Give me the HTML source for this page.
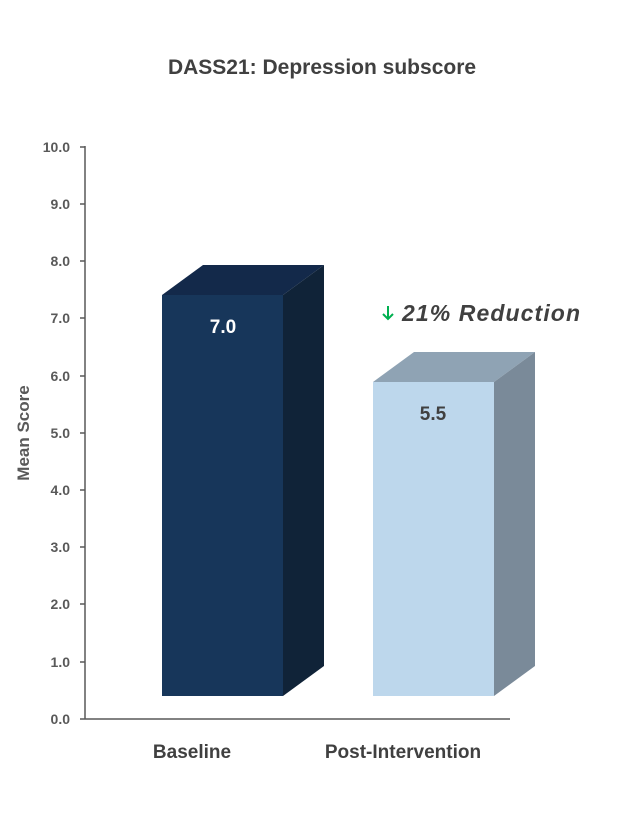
<!DOCTYPE html>
<html><head><style>
body{margin:0;background:#fff;width:641px;height:810px;overflow:hidden}
text{font-family:"Liberation Sans",sans-serif;font-weight:bold}
</style></head><body>
<svg width="641" height="810" xmlns="http://www.w3.org/2000/svg">
<text x="322" y="74" font-size="21" fill="#404040" text-anchor="middle">DASS21: Depression subscore</text>
<g fill="#595959" font-size="14" text-anchor="end">
<text x="70" y="152">10.0</text><text x="70" y="209">9.0</text><text x="70" y="266">8.0</text>
<text x="70" y="323">7.0</text><text x="70" y="381">6.0</text><text x="70" y="438">5.0</text>
<text x="70" y="495">4.0</text><text x="70" y="552">3.0</text><text x="70" y="609">2.0</text>
<text x="70" y="667">1.0</text><text x="70" y="724">0.0</text>
</g>
<g stroke="#595959" stroke-width="1.5">
<line x1="85" y1="146" x2="85" y2="719"/>
<line x1="80" y1="719" x2="510" y2="719"/>
<line x1="80" y1="147" x2="85" y2="147"/><line x1="80" y1="204" x2="85" y2="204"/>
<line x1="80" y1="261" x2="85" y2="261"/><line x1="80" y1="318" x2="85" y2="318"/>
<line x1="80" y1="376" x2="85" y2="376"/><line x1="80" y1="433" x2="85" y2="433"/>
<line x1="80" y1="490" x2="85" y2="490"/><line x1="80" y1="547" x2="85" y2="547"/>
<line x1="80" y1="604" x2="85" y2="604"/><line x1="80" y1="662" x2="85" y2="662"/>
</g>
<text transform="translate(29,433) rotate(-90)" font-size="17" fill="#595959" text-anchor="middle">Mean Score</text>
<polygon points="162,295 203,265 324,265 283,295" fill="#13294a"/>
<polygon points="283,295 324,265 324,666 283,696" fill="#102338"/>
<rect x="162" y="295" width="121" height="401" fill="#17365a"/>
<text x="223" y="333" font-size="19" fill="#fff" text-anchor="middle">7.0</text>
<polygon points="373,382 414,352 535,352 494,382" fill="#8fa3b4"/>
<polygon points="494,382 535,352 535,666 494,696" fill="#7a8a99"/>
<rect x="373" y="382" width="121" height="314" fill="#bdd7ec"/>
<text x="433" y="420" font-size="19" fill="#404040" text-anchor="middle">5.5</text>
<g stroke="#00b050" stroke-width="2" fill="none">
<line x1="388" y1="306" x2="388" y2="319"/>
<polyline points="383,314 388,319 393,314"/>
</g>
<text x="402" y="321" font-size="23" fill="#404040" font-style="italic" textLength="178">21% Reduction</text>
<text x="192" y="758" font-size="19" fill="#404040" text-anchor="middle">Baseline</text>
<text x="403" y="758" font-size="19" fill="#404040" text-anchor="middle">Post-Intervention</text>
</svg>
</body></html>
